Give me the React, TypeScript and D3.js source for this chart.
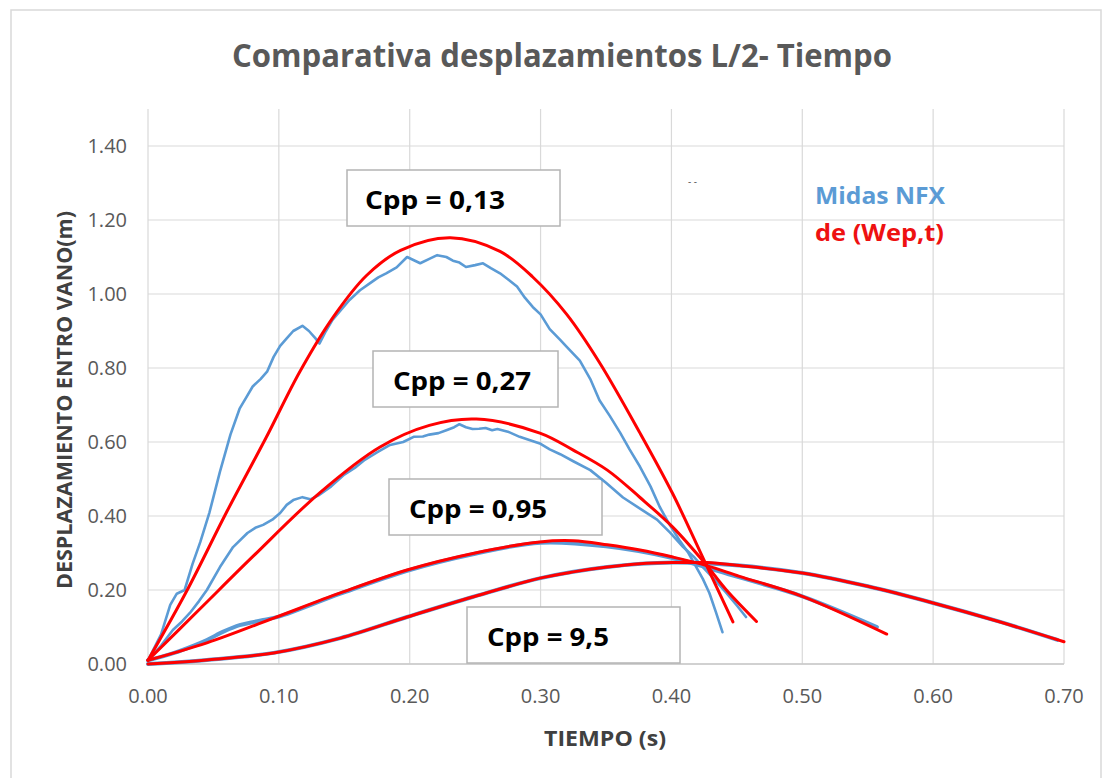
import React from "react";
import * as d3 from "d3";

const xTicks = [0, 0.1, 0.2, 0.3, 0.4, 0.5, 0.6, 0.7];
const yTicks = [0, 0.2, 0.4, 0.6, 0.8, 1.0, 1.2, 1.4];

const title = "Comparativa desplazamientos L/2- Tiempo";
const xTitle = "TIEMPO (s)";
const yTitle = "DESPLAZAMIENTO ENTRO VANO(m)";
const legendBlue = "Midas NFX";
const legendRed = "de (Wep,t)";

// Midas NFX (blue) series
const blue013: [number, number][] = [
  [0, 0.01], [0.01, 0.08], [0.017, 0.16], [0.022, 0.19], [0.028, 0.2], [0.034, 0.27], [0.04, 0.33],
  [0.047, 0.41], [0.055, 0.52], [0.063, 0.62], [0.07, 0.69], [0.075, 0.72], [0.08, 0.75], [0.086, 0.77],
  [0.091, 0.79], [0.096, 0.83], [0.101, 0.86], [0.106, 0.88], [0.111, 0.9], [0.118, 0.914], [0.123, 0.9],
  [0.128, 0.88], [0.131, 0.866], [0.136, 0.9], [0.141, 0.93], [0.147, 0.955], [0.154, 0.984], [0.162, 1.01],
  [0.17, 1.03], [0.176, 1.045], [0.182, 1.056], [0.19, 1.072], [0.198, 1.1], [0.204, 1.09], [0.208, 1.083],
  [0.215, 1.095], [0.221, 1.105], [0.228, 1.1], [0.233, 1.09], [0.238, 1.085], [0.243, 1.073], [0.25, 1.078],
  [0.256, 1.083], [0.262, 1.07], [0.269, 1.056], [0.275, 1.04], [0.282, 1.02], [0.288, 0.99], [0.294, 0.965],
  [0.3, 0.945], [0.307, 0.905], [0.315, 0.876], [0.32, 0.857], [0.33, 0.82], [0.338, 0.77], [0.345, 0.713],
  [0.353, 0.67], [0.361, 0.624], [0.368, 0.58], [0.376, 0.533], [0.384, 0.48], [0.391, 0.425], [0.398, 0.38],
  [0.406, 0.335], [0.413, 0.3], [0.419, 0.262], [0.424, 0.23], [0.429, 0.192], [0.434, 0.14], [0.439, 0.086],
];
const blue027: [number, number][] = [
  [0, 0.01], [0.01, 0.05], [0.019, 0.092], [0.026, 0.115], [0.032, 0.138], [0.039, 0.17], [0.045, 0.2],
  [0.055, 0.262], [0.065, 0.316], [0.076, 0.354], [0.082, 0.368], [0.088, 0.376], [0.095, 0.39],
  [0.101, 0.408], [0.106, 0.43], [0.111, 0.443], [0.118, 0.451], [0.124, 0.445], [0.13, 0.455],
  [0.14, 0.48], [0.15, 0.512], [0.158, 0.53], [0.165, 0.55], [0.175, 0.572], [0.185, 0.592], [0.195, 0.6],
  [0.203, 0.614], [0.21, 0.615], [0.215, 0.62], [0.222, 0.624], [0.228, 0.632], [0.234, 0.64], [0.238, 0.648],
  [0.243, 0.64], [0.248, 0.635], [0.253, 0.636], [0.258, 0.638], [0.263, 0.632], [0.267, 0.635],
  [0.275, 0.628], [0.284, 0.614], [0.292, 0.605], [0.3, 0.595], [0.307, 0.58], [0.315, 0.567], [0.325, 0.548],
  [0.338, 0.524], [0.35, 0.49], [0.363, 0.45], [0.376, 0.42], [0.389, 0.39], [0.399, 0.355], [0.409, 0.316],
  [0.417, 0.29], [0.424, 0.262], [0.433, 0.228], [0.442, 0.192], [0.45, 0.158], [0.457, 0.127],
];
const blue095: [number, number][] = [
  [0, 0.01], [0.02, 0.03], [0.035, 0.05], [0.045, 0.065], [0.058, 0.088], [0.07, 0.105], [0.08, 0.113],
  [0.088, 0.119], [0.1, 0.128], [0.147, 0.19], [0.198, 0.252], [0.25, 0.298], [0.3, 0.328], [0.35, 0.318],
  [0.4, 0.287], [0.45, 0.236], [0.5, 0.183], [0.557, 0.1],
];
const blue95: [number, number][] = [
  [0, 0.0], [0.045, 0.011], [0.096, 0.03], [0.147, 0.07], [0.198, 0.127], [0.248, 0.181], [0.3, 0.232],
  [0.351, 0.262], [0.401, 0.274], [0.452, 0.266], [0.5, 0.246], [0.55, 0.21], [0.6, 0.165], [0.65, 0.115],
  [0.695, 0.065],
];

// de (Wep,t) (red) series
const red013: [number, number][] = [
  [0, 0.01], [0.03, 0.2], [0.06, 0.41], [0.09, 0.61], [0.116, 0.79], [0.141, 0.935], [0.167, 1.05],
  [0.193, 1.118], [0.231, 1.152], [0.269, 1.115], [0.294, 1.046], [0.32, 0.945], [0.345, 0.815],
  [0.376, 0.624], [0.401, 0.46], [0.425, 0.28], [0.447, 0.114],
];
const red027: [number, number][] = [
  [0, 0.01], [0.04, 0.15], [0.08, 0.29], [0.131, 0.462], [0.177, 0.586], [0.215, 0.645], [0.251, 0.662],
  [0.2995, 0.624], [0.325, 0.578], [0.351, 0.524], [0.376, 0.45], [0.401, 0.37], [0.425, 0.275],
  [0.442, 0.2], [0.465, 0.115],
];
const red095: [number, number][] = [
  [0, 0.01], [0.045, 0.057], [0.096, 0.124], [0.147, 0.192], [0.198, 0.254], [0.25, 0.3], [0.2995, 0.33],
  [0.325, 0.333], [0.351, 0.322], [0.376, 0.308], [0.401, 0.289], [0.427, 0.266], [0.452, 0.237],
  [0.5, 0.183], [0.5645, 0.081],
];
const red95: [number, number][] = [
  [0, 0.0], [0.045, 0.011], [0.096, 0.03], [0.147, 0.07], [0.198, 0.127], [0.248, 0.181], [0.2995, 0.232],
  [0.325, 0.249], [0.351, 0.262], [0.376, 0.271], [0.401, 0.274], [0.427, 0.274], [0.452, 0.266],
  [0.5, 0.246], [0.55, 0.21], [0.6, 0.165], [0.65, 0.115], [0.7, 0.06],
];

const blueSeries = [blue013, blue027, blue095, blue95];
const redSeries = [red013, red027, red095, red95];

const annotations = ["Cpp = 0,13", "Cpp = 0,27", "Cpp = 0,95", "Cpp = 9,5"];
const annotationBoxes = [
  { x: 347, y: 170, w: 213, h: 56, tx: 365, ty: 209, tl: 140 },
  { x: 373, y: 351, w: 185, h: 56, tx: 393, ty: 390, tl: 138 },
  { x: 389, y: 479, w: 213, h: 56, tx: 409, ty: 518, tl: 138 },
  { x: 467, y: 607, w: 213, h: 56, tx: 487, ty: 646, tl: 122 },
];

const FONT = "'Open Sans', 'Noto Sans', sans-serif";

export default function App() {
  const x = d3.scaleLinear().domain([0, 0.7]).range([148, 1064]);
  const y = d3.scaleLinear().domain([0, 1.4]).range([664, 146]);
  const plotTop = y(1.5);
  const fmt = d3.format(".2f");

  const redLine = d3
    .line<[number, number]>()
    .x((d) => x(d[0]))
    .y((d) => y(d[1]))
    .curve(d3.curveCatmullRom.alpha(0.5));
  const blueLine = d3
    .line<[number, number]>()
    .x((d) => x(d[0]))
    .y((d) => y(d[1]))
    .curve(d3.curveLinear);
  const blueSmooth = d3
    .line<[number, number]>()
    .x((d) => x(d[0]))
    .y((d) => y(d[1]))
    .curve(d3.curveCatmullRom.alpha(0.5));

  return (
    <svg
      width={1106}
      height={778}
      style={{ position: "absolute", left: 0, top: 0, background: "#fff" }}
      fontFamily={FONT}
    >
      <rect x={0} y={0} width={1106} height={778} fill="#ffffff" />
      <rect x={11} y={10} width={1090} height={800} fill="#ffffff" stroke="#d9d9d9" strokeWidth={1.5} />

      {/* title */}
      <text
        x={562}
        y={67}
        textAnchor="middle"
        fontSize={33}
        fontWeight={700}
        fill="#595959"
        textLength={660}
        lengthAdjust="spacingAndGlyphs"
      >
        {title}
      </text>

      {/* gridlines */}
      {yTicks.map((t) => (
        <line key={"gy" + t} x1={x(0)} x2={x(0.7)} y1={y(t)} y2={y(t)} stroke="#d9d9d9" strokeWidth={1.2} />
      ))}
      {xTicks.map((t) => (
        <line key={"gx" + t} x1={x(t)} x2={x(t)} y1={plotTop} y2={y(0)} stroke="#d9d9d9" strokeWidth={1.2} />
      ))}
      <line x1={x(0)} x2={x(0.7)} y1={y(0)} y2={y(0)} stroke="#c8c8c8" strokeWidth={1.5} />

      {/* tick labels */}
      {yTicks.map((t) => (
        <text key={"ly" + t} x={127} y={y(t) + 7} textAnchor="end" fontSize={20} fill="#595959">
          {fmt(t)}
        </text>
      ))}
      {xTicks.map((t) => (
        <text key={"lx" + t} x={x(t)} y={703} textAnchor="middle" fontSize={20} fill="#595959">
          {fmt(t)}
        </text>
      ))}

      {/* axis titles */}
      <text
        x={605}
        y={746}
        textAnchor="middle"
        fontSize={21}
        fontWeight={700}
        fill="#404040"
        textLength={122}
        lengthAdjust="spacingAndGlyphs"
      >
        {xTitle}
      </text>
      <text
        transform={`translate(72,400) rotate(-90)`}
        textAnchor="middle"
        fontSize={22}
        fontWeight={700}
        fill="#404040"
        textLength={378}
        lengthAdjust="spacingAndGlyphs"
      >
        {yTitle}
      </text>

      {/* annotation boxes */}
      {annotationBoxes.map((b, i) => (
        <g key={"ann" + i}>
          <rect x={b.x} y={b.y} width={b.w} height={b.h} fill="#ffffff" stroke="#b4b4b4" strokeWidth={1.5} />
          <text
            x={b.tx}
            y={b.ty}
            fontSize={25}
            fontWeight={700}
            fill="#000000"
            textLength={b.tl}
            lengthAdjust="spacingAndGlyphs"
          >
            {annotations[i]}
          </text>
        </g>
      ))}

      {/* series */}
      {blueSeries.map((s, i) => (
        <path
          key={"b" + i}
          d={(i >= 2 ? blueSmooth(s) : blueLine(s)) || ""}
          fill="none"
          stroke="#5b9bd5"
          strokeWidth={i >= 2 ? 4 : 2.6}
          strokeLinejoin="round"
          strokeLinecap="round"
        />
      ))}
      {redSeries.map((s, i) => (
        <path
          key={"r" + i}
          d={redLine(s) || ""}
          fill="none"
          stroke="#ff0000"
          strokeWidth={3}
          strokeLinecap="round"
        />
      ))}

      {/* legend texts */}
      <text x={815} y={204} fontSize={23} fontWeight={700} fill="#5b9bd5" textLength={130} lengthAdjust="spacingAndGlyphs">
        {legendBlue}
      </text>
      <text x={815} y={241} fontSize={23} fontWeight={700} fill="#ee1111" textLength={129} lengthAdjust="spacingAndGlyphs">
        {legendRed}
      </text>
      <text x={688} y={185} fontSize={10} fill="#555555">
        - -
      </text>
    </svg>
  );
}
